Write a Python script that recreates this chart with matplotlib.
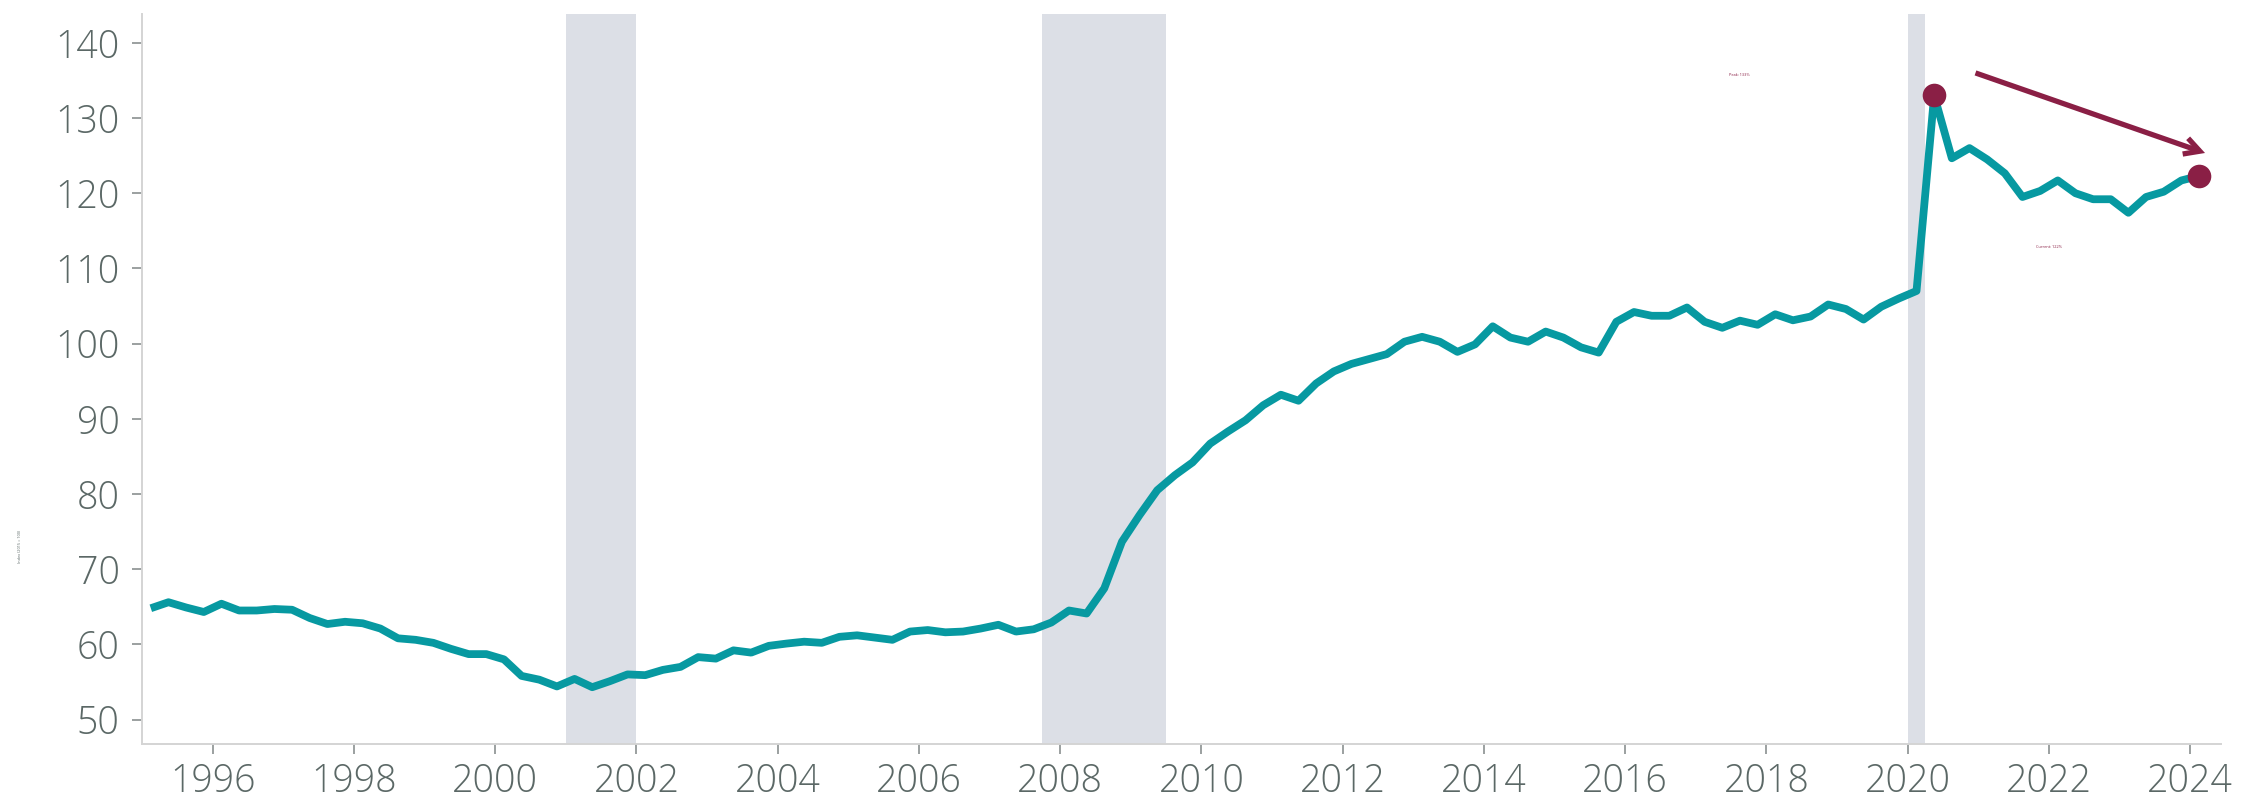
import numpy as np
import matplotlib.pyplot as plt
from matplotlib import font_manager

# quarterly series, 1995 Q1 .. 2024 Q1
start_year = 1995
values = [
    64.8, 65.6, 64.9, 64.3, 65.4, 64.5, 64.5, 64.7, 64.6, 63.5,
    62.7, 63.0, 62.8, 62.1, 60.8, 60.6, 60.2, 59.4, 58.7, 58.7,
    58.0, 55.8, 55.3, 54.4, 55.4, 54.3, 55.1, 56.0, 55.9, 56.6,
    57.0, 58.3, 58.1, 59.2, 58.9, 59.8, 60.1, 60.35, 60.2, 61.0,
    61.2, 60.9, 60.6, 61.7, 61.9, 61.6, 61.7, 62.1, 62.6, 61.7,
    62.0, 62.9, 64.5, 64.1, 67.45, 73.65, 77.2, 80.5, 82.5, 84.2,
    86.7, 88.3, 89.8, 91.8, 93.2, 92.4, 94.7, 96.3, 97.3, 97.95,
    98.6, 100.25, 100.9, 100.25, 98.9, 99.9, 102.3, 100.8, 100.25, 101.6,
    100.8, 99.5, 98.8, 102.9, 104.2, 103.7, 103.7, 104.8, 102.9, 102.1,
    103.05, 102.5, 103.9, 103.1, 103.6, 105.2, 104.6, 103.2, 104.9, 106.0,
    107.0, 133.0, 124.65, 126.0, 124.5, 122.65, 119.5, 120.3, 121.7, 120.0,
    119.2, 119.2, 117.4, 119.5, 120.2, 121.7, 122.3,
]
recessions = [(2001.0, 2002.0), (2007.75, 2009.5), (2020.0, 2020.25)]
year_ticks = list(range(1996, 2025, 2))
y_ticks = list(range(50, 141, 10))
peak_label = "Peak: 133%"
current_label = "Current: 122%"
y_label = "Index (2015 = 100)"

teal = "#0799A1"
wine = "#8A1F45"
shade = "#DCDFE6"
text_grey = "#5B6866"

installed = {f.name for f in font_manager.fontManager.ttflist}
family = [f for f in ["Open Sans", "Lato", "DejaVu Sans"] if f in installed]
plt.rcParams["font.family"] = family

x = start_year + 0.125 + 0.25 * np.arange(len(values))
y = np.array(values)

fig = plt.figure(figsize=(22.43, 7.99), dpi=100)
ax = fig.add_axes([0.0633, 0.0688, 0.9267, 0.9137])

for x0, x1 in recessions:
    ax.axvspan(x0, x1, color=shade, lw=0, zorder=0)

ax.plot(x, y, color=teal, lw=5.6, solid_joinstyle="round",
        solid_capstyle="butt", zorder=2)

peak_i = int(np.argmax(y))
ax.plot([x[peak_i], x[-1]], [y[peak_i], y[-1]], "o", color=wine, ms=17,
        mew=0, zorder=3)

ax.annotate("", xy=(2024.21, 125.35), xytext=(2020.96, 136.0),
            arrowprops=dict(arrowstyle="->,head_length=1.1,head_width=0.6",
                            color=wine, lw=3.8, shrinkA=0, shrinkB=0,
                            joinstyle="miter", capstyle="butt"))
ax.text(2017.62, 135.7, peak_label, fontsize=2.8, color=wine,
        ha="center", va="center")
ax.text(2022.0, 112.85, current_label, fontsize=2.8, color=wine,
        ha="center", va="center")

ax.set_xlim(1995.0, 2024.43)
ax.set_ylim(46.74, 143.84)
ax.set_xticks(year_ticks)
ax.set_xticklabels([str(t) for t in year_ticks])
ax.set_yticks(y_ticks)

for side in ["top", "right"]:
    ax.spines[side].set_visible(False)
for side in ["left", "bottom"]:
    ax.spines[side].set_color("#D4D4D4")
    ax.spines[side].set_linewidth(1.4)

ax.tick_params(axis="both", colors="#8A9090", labelcolor=text_grey,
               labelsize=27, length=7, width=1.2)
ax.tick_params(axis="y", pad=9)
ax.tick_params(axis="x", pad=6)
for lab in ax.get_xticklabels() + ax.get_yticklabels():
    lab.set_fontweight("light")

fig.text(0.009, 0.316, y_label, rotation=90, fontsize=2.8, color=text_grey,
         ha="center", va="center")

fig.savefig("out.png", dpi=100)
